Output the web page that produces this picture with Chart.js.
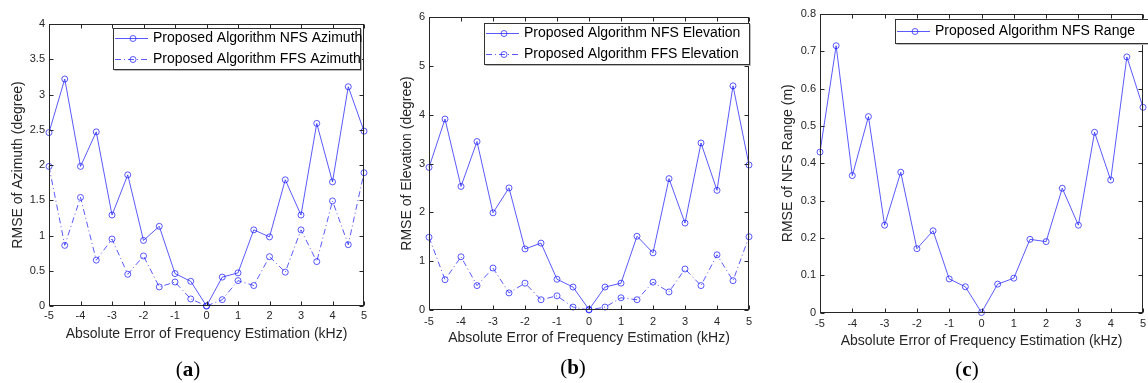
<!DOCTYPE html>
<html>
<head>
<meta charset="utf-8">
<script src="https://cdn.jsdelivr.net/npm/chart.js@4.4.0/dist/chart.umd.min.js"></script>
<style>
  body { margin: 0; background: #fff; }
  #wrap { position: relative; width: 1148px; height: 383px; overflow: hidden; }
  canvas { position: absolute; top: 0; }
  .cap { position: absolute; font-family: "Liberation Serif", serif; font-size: 21px; color: #000; transform: translate(-50%, -50%); line-height: 1; white-space: nowrap; }
</style>
</head>
<body>
<div id="wrap">
  <canvas id="chartA" width="380" height="383" style="left:0"></canvas>
  <canvas id="chartB" width="380" height="383" style="left:380px"></canvas>
  <canvas id="chartC" width="388" height="383" style="left:760px"></canvas>
  <div class="cap" style="left:188px;top:369px">(<b>a</b>)</div>
  <div class="cap" style="left:573px;top:367px">(<b>b</b>)</div>
  <div class="cap" style="left:967px;top:369px">(<b>c</b>)</div>
</div>
<script>
// frequency estimation error (kHz)
const freqError = [-5, -4.5, -4, -3.5, -3, -2.5, -2, -1.5, -1, -0.5, 0, 0.5, 1, 1.5, 2, 2.5, 3, 3.5, 4, 4.5, 5];
const xTicks = [-5, -4, -3, -2, -1, 0, 1, 2, 3, 4, 5];

const azimuthNFS = [2.46, 3.22, 1.98, 2.47, 1.29, 1.86, 0.93, 1.13, 0.46, 0.35, 0, 0.41, 0.47, 1.08, 0.98, 1.79, 1.29, 2.59, 1.76, 3.11, 2.48];
const azimuthFFS = [1.98, 0.86, 1.54, 0.65, 0.95, 0.45, 0.71, 0.27, 0.34, 0.10, 0, 0.09, 0.36, 0.29, 0.70, 0.48, 1.08, 0.63, 1.49, 0.87, 1.89];
const elevationNFS = [2.92, 3.91, 2.53, 3.45, 1.99, 2.50, 1.25, 1.37, 0.63, 0.47, 0.01, 0.47, 0.55, 1.51, 1.17, 2.69, 1.78, 3.42, 2.45, 4.59, 2.97];
const elevationFFS = [1.49, 0.62, 1.09, 0.50, 0.86, 0.35, 0.55, 0.21, 0.29, 0.06, 0, 0.06, 0.25, 0.21, 0.57, 0.37, 0.84, 0.50, 1.13, 0.60, 1.50];
const rangeNFS = [0.43, 0.715, 0.367, 0.525, 0.234, 0.376, 0.171, 0.219, 0.090, 0.069, 0, 0.076, 0.092, 0.196, 0.19, 0.333, 0.234, 0.483, 0.355, 0.685, 0.55];

const yTicksAzimuth = [0, 0.5, 1, 1.5, 2, 2.5, 3, 3.5, 4];
const yTicksElevation = [0, 1, 2, 3, 4, 5, 6];
const yTicksRange = [0, 0.1, 0.2, 0.3, 0.4, 0.5, 0.6, 0.7, 0.8];

const lineBlue = 'rgba(20, 20, 255, 0.7)';
const axisColor = '#262626';
const fontFamily = '"Liberation Sans", Arial, sans-serif';

Chart.defaults.font.family = fontFamily;

// matlab style box, inward ticks and a legend inside the axes
const matlabFrame = {
    id: 'matlabFrame',
    afterDatasetsDraw(chart) {
        const {ctx, chartArea: a, scales: {x, y}} = chart;
        const L = Math.round(a.left) + 0.5, R = Math.round(a.right) - 0.5;
        const T = Math.round(a.top) + 0.5, B = Math.round(a.bottom) - 0.5;
        ctx.save();
        ctx.strokeStyle = axisColor;
        ctx.lineWidth = 1;
        ctx.strokeRect(L, T, R - L, B - T);
        ctx.beginPath();
        x.ticks.forEach(t => {
            const p = Math.round(x.getPixelForValue(t.value)) + 0.5;
            ctx.moveTo(p, B); ctx.lineTo(p, B - 4);
            ctx.moveTo(p, T); ctx.lineTo(p, T + 4);
        });
        y.ticks.forEach(t => {
            const p = Math.round(y.getPixelForValue(t.value)) + 0.5;
            ctx.moveTo(L, p); ctx.lineTo(L + 4, p);
            ctx.moveTo(R, p); ctx.lineTo(R - 4, p);
        });
        ctx.stroke();
        ctx.restore();
    },
    afterDraw(chart, args, opts) {
        const box = opts.box;
        if (!box) return;
        const {ctx} = chart;
        const sets = chart.data.datasets;
        const rowH = box.h / sets.length;
        ctx.save();
        // light shadow then box
        ctx.strokeStyle = '#bbb';
        ctx.lineWidth = 1;
        ctx.beginPath();
        ctx.moveTo(box.x + 1.5, box.y + box.h + 1.5);
        ctx.lineTo(box.x + box.w + 1.5, box.y + box.h + 1.5);
        ctx.lineTo(box.x + box.w + 1.5, box.y + 1.5);
        ctx.stroke();
        ctx.fillStyle = '#fff';
        ctx.fillRect(box.x + 0.5, box.y + 0.5, box.w, box.h);
        ctx.strokeStyle = '#333';
        ctx.strokeRect(box.x + 0.5, box.y + 0.5, box.w, box.h);

        sets.forEach((ds, i) => {
            const cy = Math.round(box.y + rowH * i + rowH / 2) + 0.5;
            ctx.strokeStyle = lineBlue;
            ctx.setLineDash(ds.borderDash || []);
            ctx.beginPath();
            ctx.moveTo(box.x + 2, cy);
            ctx.lineTo(box.x + 35, cy);
            ctx.stroke();
            ctx.setLineDash([]);
            ctx.beginPath();
            ctx.arc(box.x + 20, cy, 3, 0, Math.PI * 2);
            ctx.stroke();
            ctx.fillStyle = '#000';
            ctx.font = '14px ' + fontFamily;
            ctx.textBaseline = 'middle';
            ctx.fillText(ds.label, box.x + 40, cy);
        });
        ctx.restore();
    }
};

function makeChart(id, series, yTicks, yTitle, geo) {
    const canvas = document.getElementById(id);
    const W = canvas.width, H = canvas.height;
    const xBottom = geo.xTitleY + 8.4;

    const datasets = series.map(s => ({
        label: s.label,
        data: freqError.map((f, i) => ({x: f, y: s.values[i]})),
        borderColor: lineBlue,
        borderWidth: 1,
        borderDash: s.dash,
        pointRadius: 3,
        pointBorderWidth: 1,
        pointBorderColor: lineBlue,
        pointBackgroundColor: 'rgba(0,0,0,0)',
        tension: 0,
        clip: false
    }));

    return new Chart(canvas.getContext('2d'), {
        type: 'line',
        data: {datasets: datasets},
        plugins: [matlabFrame],
        options: {
            responsive: false,
            animation: false,
            events: [],
            layout: {
                padding: {left: 0, top: geo.top, right: W - geo.right, bottom: H - xBottom}
            },
            plugins: {
                legend: {display: false},
                tooltip: {enabled: false},
                matlabFrame: {box: geo.legend}
            },
            scales: {
                x: {
                    type: 'linear',
                    min: -5,
                    max: 5,
                    grid: {display: false, drawTicks: false},
                    border: {display: false},
                    afterBuildTicks: s => { s.ticks = xTicks.map(v => ({value: v})); },
                    afterFit: s => { s.height = xBottom - geo.bottom; s.paddingLeft = 0; s.paddingRight = 0; },
                    ticks: {
                        color: axisColor,
                        font: {size: 11},
                        padding: geo.xTickPad,
                        maxRotation: 0,
                        autoSkip: false,
                        callback: v => String(v)
                    },
                    title: {
                        display: true,
                        text: 'Absolute Error of Frequency Estimation (kHz)',
                        color: axisColor,
                        font: {size: 14},
                        padding: {top: 0, bottom: 0}
                    }
                },
                y: {
                    type: 'linear',
                    min: yTicks[0],
                    max: yTicks[yTicks.length - 1],
                    grid: {display: false, drawTicks: false},
                    border: {display: false},
                    afterBuildTicks: s => { s.ticks = yTicks.map(v => ({value: v})); },
                    afterFit: s => { s.width = geo.left; s.paddingTop = 0; s.paddingBottom = 0; },
                    ticks: {
                        color: axisColor,
                        font: {size: 11},
                        padding: 4,
                        autoSkip: false,
                        callback: v => String(v)
                    },
                    title: {
                        display: true,
                        text: yTitle,
                        color: axisColor,
                        font: {size: 14},
                        padding: {top: geo.yTitleX - 8.4, bottom: 0}
                    }
                }
            }
        }
    });
}

makeChart('chartA', [
    {label: 'Proposed Algorithm NFS Azimuth', values: azimuthNFS, dash: []},
    {label: 'Proposed Algorithm FFS Azimuth', values: azimuthFFS, dash: [6, 3, 1, 3]}
], yTicksAzimuth, 'RMSE of Azimuth (degree)', {
    left: 49, top: 24, right: 364, bottom: 306, xTitleY: 334, yTitleX: 18, xTickPad: 3,
    legend: {x: 113, y: 28, w: 247, h: 41}
});

makeChart('chartB', [
    {label: 'Proposed Algorithm NFS Elevation', values: elevationNFS, dash: []},
    {label: 'Proposed Algorithm FFS Elevation', values: elevationFFS, dash: [6, 3, 1, 3]}
], yTicksElevation, 'RMSE of Elevation (degree)', {
    left: 49, top: 17, right: 369, bottom: 310, xTitleY: 338, yTitleX: 27, xTickPad: 5,
    legend: {x: 104, y: 23, w: 265, h: 41}
});

makeChart('chartC', [
    {label: 'Proposed Algorithm NFS Range', values: rangeNFS, dash: []}
], yTicksRange, 'RMSE of NFS Range (m)', {
    left: 60, top: 14, right: 387, bottom: 312.5, xTitleY: 341, yTitleX: 28, xTickPad: 5,
    legend: {x: 135, y: 19, w: 260, h: 24}
});
</script>
</body>
</html>
